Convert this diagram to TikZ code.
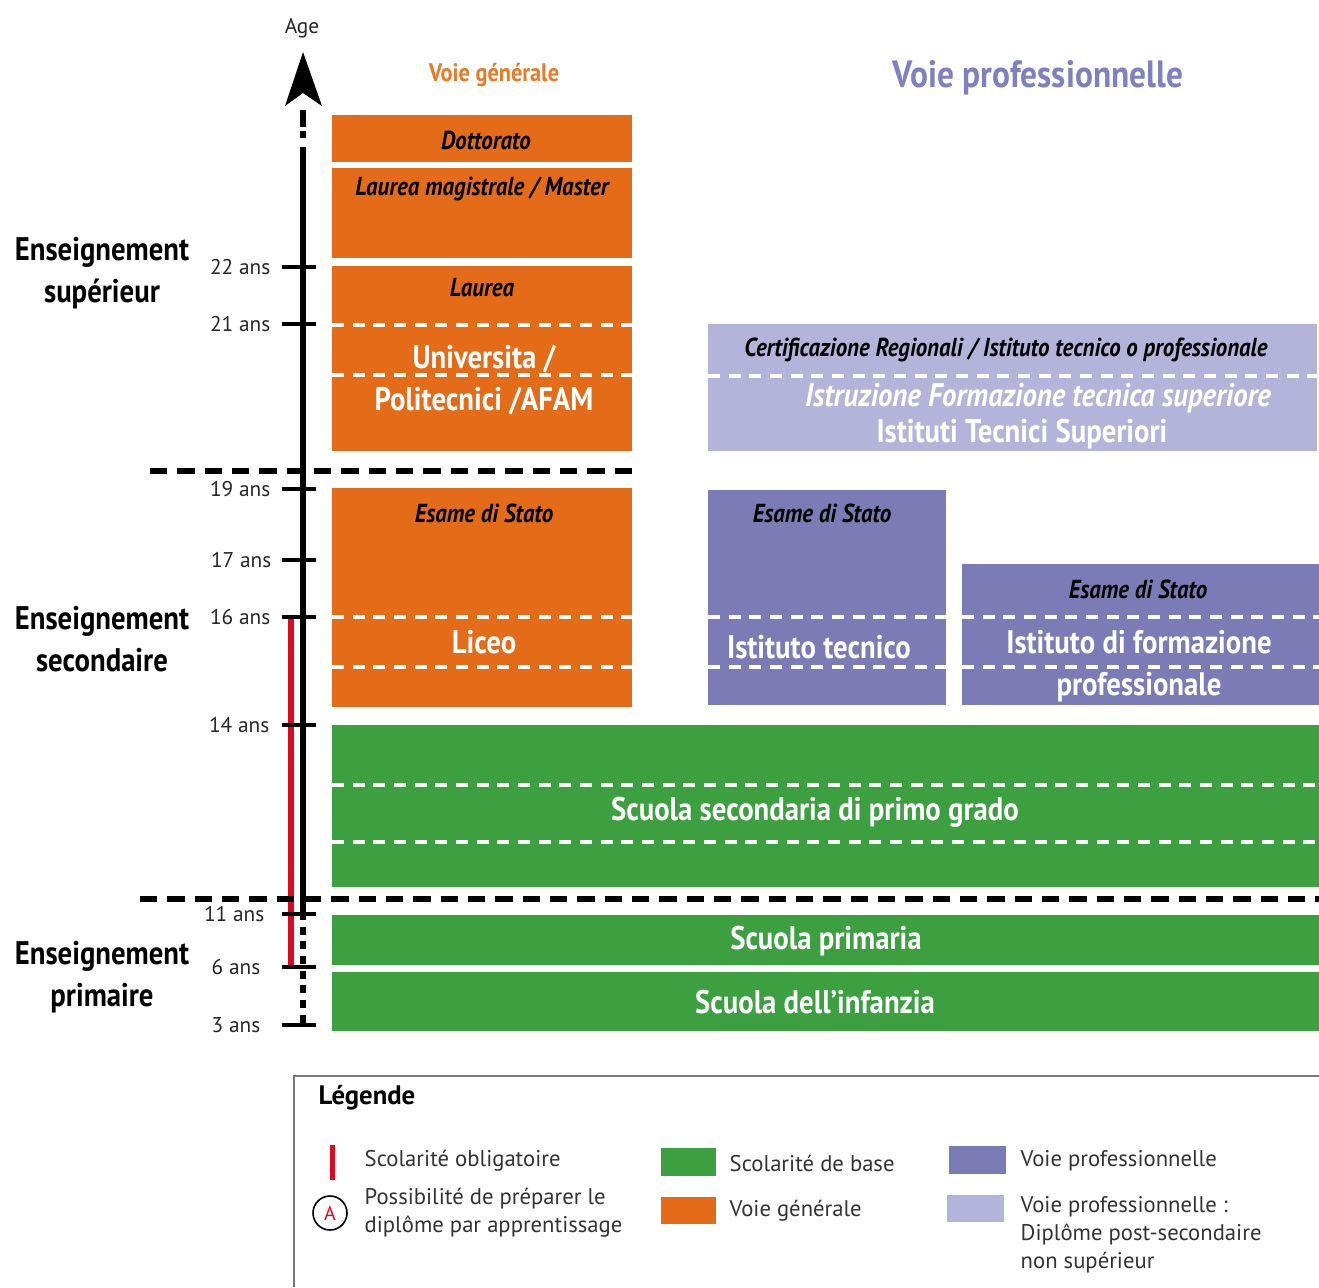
\documentclass[tikz,border=0pt]{standalone}
\usepackage{fontspec}
\setmainfont{PT Sans}
\newfontfamily\cnd[FakeStretch=0.88]{PT Sans}
\definecolor{ora}{HTML}{E46B18}
\definecolor{gre}{HTML}{3CA040}
\definecolor{pur}{HTML}{7B7CB5}
\definecolor{lpur}{HTML}{B4B4DA}
\definecolor{ptitle}{HTML}{7F80C0}
\definecolor{otitle}{HTML}{EA7A25}
\definecolor{redl}{HTML}{DC0A1E}
\definecolor{lgray}{HTML}{777777}
\begin{document}
\begin{tikzpicture}[x=0.75pt,y=-0.75pt,
  wdash/.style={white,line width=3pt,dash pattern=on 9pt off 6.5pt},
  bdash/.style={black,line width=3.8pt,dash pattern=on 13pt off 7.5pt},
  tick/.style={black,line width=3pt},
  agel/.style={anchor=east,font=\fontsize{16}{16}\selectfont,text=black!85},
  sect/.style={align=center,font=\cnd\bfseries\fontsize{24.5}{31.5}\selectfont},
  wt/.style={text=white,font=\cnd\bfseries\fontsize{24.5}{32}\selectfont,align=center},
  it/.style={text=black,font=\cnd\bfseries\itshape\fontsize{19.5}{19.5}\selectfont},
  itw/.style={text=white,font=\cnd\bfseries\itshape\fontsize{24.5}{24.5}\selectfont},
  leg/.style={anchor=west,font=\fontsize{17}{21}\selectfont,align=left,text=black!80}]
\useasboundingbox (0,0) rectangle (1319,1287);
% axis
\fill (303,52) -- (322,106) -- (303,93) -- (285,106) -- cycle;
\coordinate (ax1) at (303,110);
\coordinate (ax2) at (303,162);
\coordinate (ax3) at (303,912);
\coordinate (ax4) at (303,1025);
\draw[black,line width=4pt,dash pattern=on 13pt off 3pt on 5pt off 7pt] (ax1) -- (ax2);
\draw[black,line width=4pt] (ax2) -- (ax3);
\draw[black,line width=4pt,dash pattern=on 6pt off 5pt] (ax3) -- (ax4);
\node[font=\fontsize{16}{16}\selectfont,text=black!85] (age) at (302,28) {Age};
% red line
\coordinate (r1) at (291,619);
\coordinate (r2) at (291,967);
\draw[redl,line width=4pt] (r1) -- (r2);
% ticks
\foreach \y/\t/\n/\xe in {267/22/a/275,324/21/b/275,489/19/c/275,560/17/d/276,617/16/e/275,725/14/f/274,914/11/g/269,967/6/h/265,1025/3/i/265}{
  \draw[tick] (282,\y) -- (316,\y);
  \node[agel] (t\n) at (\xe,\y) {\t\ ans};
}
% section labels
\node[sect] (s1) at (102,273) {Enseignement\\supérieur};
\node[sect] (s2) at (102,639) {Enseignement\\secondaire};
\node[sect] (s3) at (102,977) {Enseignement\\primaire};
% titles
\node[text=otitle,font=\cnd\bfseries\fontsize{19}{19}\selectfont] (vg) at (494,75) {Voie générale};
\node[text=ptitle,font=\cnd\bfseries\fontsize{28.5}{28.5}\selectfont] (vp) at (1038,78) {Voie professionnelle};
% orange blocks
\fill[ora] (332,115) rectangle (632,162);
\node[it] (dot) at (486,140) {Dottorato};
\fill[ora] (332,168) rectangle (632,258);
\node[it] (lm) at (482,189) {Laurea magistrale / Master};
\fill[ora] (332,266) rectangle (632,451);
\node[it] (lau) at (482,288) {Laurea};
\draw[wdash] (332,325) -- (632,325);
\draw[wdash] (332,375) -- (632,375);
\node[wt] (uni) at (484,380) {Universita /\\Politecnici /AFAM};
\fill[ora] (332,488) rectangle (632,707);
\node[it] (es1) at (484,513) {Esame di Stato};
\draw[wdash] (332,617) -- (632,617);
\draw[wdash] (332,667) -- (632,667);
\node[wt] (lic) at (484,642) {Liceo};
% black dashed separators
\draw[bdash] (150,471) -- (632,471);
\draw[bdash] (140,899) -- (1319,899);
% light purple
\fill[lpur] (708,324) rectangle (1317,451);
\node[it] (cert) at (1006,350) {Certificazione Regionali  / Istituto tecnico o professionale};
\draw[wdash] (708,376) -- (1317,376);
\node[itw] (ifts) at (1038,398) {Istruzione Formazione tecnica superiore};
\node[wt] (its) at (1022,434) {Istituti Tecnici Superiori};
% purple blocks
\fill[pur] (708,490) rectangle (946,705);
\node[it] (es2) at (822,513) {Esame di Stato};
\draw[wdash] (708,617) -- (946,617);
\draw[wdash] (708,667) -- (946,667);
\node[wt] (itec) at (819,647) {Istituto tecnico};
\fill[pur] (962,564) rectangle (1319,705);
\node[it] (es3) at (1138,589) {Esame di Stato};
\draw[wdash] (962,617) -- (1319,617);
\draw[wdash] (962,667) -- (1319,667);
\node[wt] (ifp) at (1139,666) {Istituto di formazione\\professionale};
% green
\fill[gre] (332,725) rectangle (1319,887);
\draw[wdash] (332,785) -- (1319,785);
\draw[wdash] (332,842) -- (1319,842);
\node[wt] (ssp) at (815,812) {Scuola secondaria di primo grado};
\fill[gre] (332,915) rectangle (1319,965);
\node[wt] (sp) at (826,941) {Scuola primaria};
\fill[gre] (332,972) rectangle (1319,1031);
\node[wt] (si) at (815,1002) {Scuola dell’infanzia};
% legend
\draw[lgray,line width=2pt] (294,1287) -- (294,1076) -- (1319,1076);
\node[anchor=west,font=\bfseries\fontsize{20}{20}\selectfont] (lg) at (314,1098) {Légende};
\fill[redl] (330,1145) rectangle (335,1180);
\node[leg] (l1) at (360,1161) {Scolarité obligatoire};
\node[draw=black,line width=1.2pt,circle,minimum size=34pt*0.75,inner sep=0,text=redl,font=\fontsize{15}{15}\selectfont] (ca) at (330,1213) {A};
\node[leg] (l2) at (360,1213) {Possibilité de préparer le\\diplôme par apprentissage};
\fill[gre] (661,1148) rectangle (716,1176);
\node[leg] (l3) at (725,1163) {Scolarité de base};
\fill[ora] (661,1197) rectangle (716,1224);
\node[leg] (l4) at (725,1211) {Voie générale};
\fill[pur] (949,1146) rectangle (1006,1174);
\node[leg] (l5) at (1016,1161) {Voie professionnelle};
\fill[lpur] (947,1195) rectangle (1004,1222);
\node[leg] (l6) at (1016,1235) {Voie professionnelle :\\Diplôme post-secondaire\\non supérieur};
\end{tikzpicture}
\end{document}
